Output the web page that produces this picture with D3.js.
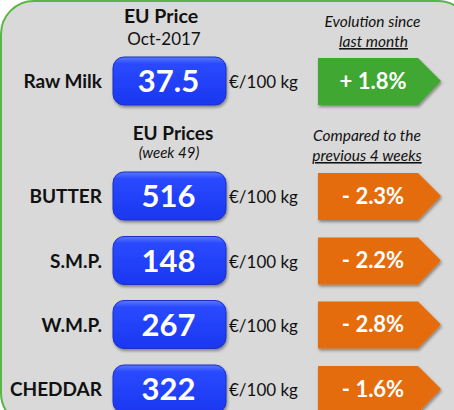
<!DOCTYPE html>
<html><head><meta charset="utf-8">
<script src="https://cdn.jsdelivr.net/npm/d3@7"></script>
<style>html,body{margin:0;padding:0;background:#fff;} svg{display:block;} text{font-family:Lato,"Open Sans",sans-serif;}</style>
</head><body>
<svg id="c" width="454" height="410"></svg>
<script>
const products = ["Raw Milk","BUTTER","S.M.P.","W.M.P.","CHEDDAR"];
const prices = [37.5,516,148,267,322];
const changes = [1.8,-2.3,-2.2,-2.8,-1.6];
const priceLabels = ["37.5","516","148","267","322"];
const unit = "€/100 kg";
const headerTop = ["EU Price","Oct-2017","Evolution since","last month"];
const headerBottom = ["EU Prices","(week 49)","Compared to the","previous 4 weeks"];

const svg = d3.select("#c");
const defs = svg.append("defs");
const g1 = defs.append("linearGradient").attr("id","blue").attr("x1",0).attr("y1",0).attr("x2",0).attr("y2",1);
g1.append("stop").attr("offset","0%").attr("stop-color","#5b78ff");
g1.append("stop").attr("offset","14%").attr("stop-color","#2a4aff");
g1.append("stop").attr("offset","100%").attr("stop-color","#1a36f0");
const f = defs.append("filter").attr("id","sh").attr("x","-20%").attr("y","-20%").attr("width","140%").attr("height","150%");
f.append("feDropShadow").attr("dx",1).attr("dy",2).attr("stdDeviation",1.6).attr("flood-color","#000").attr("flood-opacity",0.4);

// panel
svg.append("rect").attr("x",1).attr("y",1).attr("width",470).attr("height",425).attr("rx",33)
  .attr("fill","#d9d9d9").attr("stroke","#58b643").attr("stroke-width",2);

// row positions
const yRow = d3.scaleOrdinal().domain(products).range([57,172,236.5,300.5,365]);
const x = d3.scaleLinear().domain([0,454]).range([0,454]);
const boxH = 48, boxX = 113, boxW = 113;
const arrX = 318, arrBody = 100, arrTip = 123;

// headers
function hdr(t, cx, y, opts){
  const s = svg.append("text").attr("x",x(cx)).attr("y",y).attr("text-anchor","middle").text(t)
    .attr("font-size",opts.size).attr("fill","#111");
  if(opts.bold) s.attr("font-weight","bold");
  if(opts.italic) s.attr("font-style","italic");
  if(opts.under) s.attr("text-decoration","underline");
}
hdr(headerTop[0],161,23,{size:19.5,bold:true});
hdr(headerTop[1],164,45,{size:17});
hdr(headerTop[2],372.5,27,{size:15.5,italic:true});
hdr(headerTop[3],373.5,47,{size:15.5,italic:true,under:true});
hdr(headerBottom[0],173,140,{size:19,bold:true});
hdr(headerBottom[1],169,158,{size:15,italic:true});
hdr(headerBottom[2],367,141,{size:15.5,italic:true});
hdr(headerBottom[3],367,161,{size:15.5,italic:true,under:true});

const rows = svg.selectAll("g.row").data(products.map((p,i)=>({p,v:prices[i],lab:priceLabels[i],c:changes[i]})))
  .join("g").attr("class","row").attr("transform",d=>`translate(0,${yRow(d.p)})`);

rows.append("text").attr("x",x(102)).attr("y",boxH/2+7).attr("text-anchor","end")
  .attr("font-size",19).attr("font-weight","bold").attr("fill","#111").text(d=>d.p);

rows.append("rect").attr("x",x(boxX)).attr("y",0).attr("width",boxW).attr("height",boxH).attr("rx",11)
  .attr("fill","url(#blue)").attr("stroke","#1a30c4").attr("stroke-width",1).attr("filter","url(#sh)");
rows.append("text").attr("x",x(boxX+boxW/2-1)).attr("y",boxH/2+11).attr("text-anchor","middle")
  .attr("font-size",31).attr("font-weight","bold").attr("fill","#fff").text(d=>d.lab);

rows.append("text").attr("x",x(229)).attr("y",boxH/2+7).attr("font-size",17).attr("fill","#111").text(unit);

rows.append("path").attr("d",`M${x(arrX)},1 H${x(arrX+arrBody)} L${x(arrX+arrTip)},${boxH/2} L${x(arrX+arrBody)},${boxH} H${x(arrX)} Z`)
  .attr("fill",d=>d.c>=0?"#40a830":"#e46c0a").attr("filter","url(#sh)");
rows.append("text").attr("x",x(373)).attr("y",boxH/2+7.5).attr("text-anchor","middle")
  .attr("font-size",22).attr("font-weight","bold").attr("fill","#fff")
  .text(d=>(d.c>=0?"+ ":"- ")+Math.abs(d.c).toFixed(1)+"%");
</script>
</body></html>
